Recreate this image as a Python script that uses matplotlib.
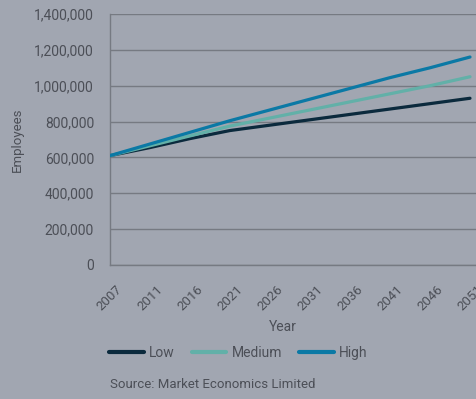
"""
Employment projections (Low / Medium / High), 2007-2051.
"""
import matplotlib
matplotlib.use("Agg")
import matplotlib.pyplot as plt
from matplotlib.ticker import FuncFormatter

years = ["2007", "2011", "2016", "2021", "2026", "2031", "2036", "2041", "2046", "2051"]
low = [610000, 655000, 705000, 750000, 780000, 810000, 840000, 870000, 900000, 930000]
medium = [610000, 665000, 720000, 775000, 820000, 865000, 910000, 955000, 1000000, 1050000]
high = [610000, 675000, 740000, 805000, 865000, 925000, 985000, 1045000, 1100000, 1160000]
y_ticks = [0, 200000, 400000, 600000, 800000, 1000000, 1200000, 1400000]

BG = "#a1a6b1"
GRID = "#767a82"
TEXT = "#4c4f57"

plt.rcParams["font.family"] = ["Roboto", "DejaVu Sans"]

W, H = 477, 399
fig = plt.figure(figsize=(W / 100, H / 100), dpi=100, facecolor=BG)
ax = fig.add_axes([110 / W, 1 - 265 / H, 367 / W, 251 / H], facecolor=BG)

x = range(len(years))
ax.plot(x, low, color="#0b2a3d", lw=2.3, solid_capstyle="round", label="Low", zorder=3)
ax.plot(x, medium, color="#62b0a8", lw=2.3, solid_capstyle="round", label="Medium", zorder=3)
ax.plot(x, high, color="#0b79a5", lw=2.3, solid_capstyle="round", label="High", zorder=3)

ax.set_xlim(0, 9 * 367 / 360)
ax.set_ylim(0, 1400000)
ax.set_xticks(list(x))
ax.set_xticklabels(years, rotation=45, ha="center", va="top", fontsize=9.5)
ax.set_yticks(y_ticks)
ax.yaxis.set_major_formatter(FuncFormatter(lambda v, p: f"{int(v):,}"))
ax.tick_params(axis="both", length=0, colors=TEXT)
ax.tick_params(axis="y", pad=11.5, labelsize=10)
ax.tick_params(axis="x", pad=13)
ax.grid(axis="y", color=GRID, lw=1)
ax.set_axisbelow(True)
for side in ("top", "right"):
    ax.spines[side].set_visible(False)
for side in ("left", "bottom"):
    ax.spines[side].set_color(GRID)
    ax.spines[side].set_linewidth(1)

ax.set_ylabel("Employees", color=TEXT, fontsize=9.5)
ax.yaxis.set_label_coords(-0.234, 0.5)
fig.text(283 / W, 1 - 327 / H, "Year", ha="center", va="center", color=TEXT, fontsize=10)

leg = fig.legend(loc="center left", bbox_to_anchor=(109 / W, 1 - 353 / H), ncol=3,
                 frameon=False, fontsize=10, handlelength=2.5, handletextpad=0.4,
                 columnspacing=1.2, borderpad=0, borderaxespad=0)
for line in leg.get_lines():
    line.set_linewidth(3)
for t in leg.get_texts():
    t.set_color(TEXT)

fig.text(110 / W, 1 - 385 / H, "Source: Market Economics Limited", ha="left", va="center",
         color=TEXT, fontsize=9.5)

fig.savefig("out.png", dpi=100, facecolor=BG)
